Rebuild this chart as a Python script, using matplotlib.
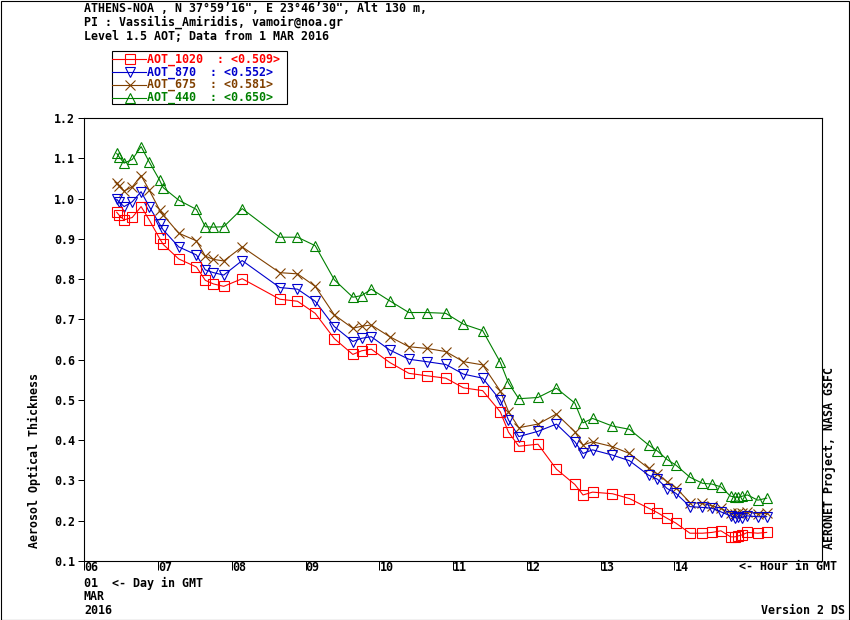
import matplotlib
matplotlib.use('Agg')
import matplotlib.pyplot as plt
from matplotlib.lines import Line2D
from matplotlib.patches import Rectangle

# Hour of day (GMT) for each measurement, 1 MAR 2016
hours = [6.44, 6.47, 6.54, 6.65, 6.77, 6.88, 7.02, 7.07, 7.28, 7.52,
         7.64, 7.75, 7.89, 8.14, 8.65, 8.89, 9.13, 9.39, 9.64, 9.76,
         9.89, 10.14, 10.40, 10.64, 10.90, 11.14, 11.40, 11.64, 11.75, 11.89,
         12.15, 12.40, 12.65, 12.76, 12.89, 13.16, 13.39, 13.65, 13.77, 13.90,
         14.02, 14.21, 14.38, 14.51, 14.63, 14.76, 14.82, 14.86, 14.92, 14.99,
         15.13, 15.25]

aot_1020 = [0.966, 0.959, 0.947, 0.953, 0.980, 0.947, 0.901, 0.886, 0.850, 0.830,
            0.797, 0.788, 0.782, 0.801, 0.750, 0.745, 0.715, 0.652, 0.613, 0.622,
            0.626, 0.593, 0.566, 0.560, 0.554, 0.530, 0.523, 0.470, 0.420, 0.385,
            0.390, 0.328, 0.290, 0.264, 0.271, 0.267, 0.255, 0.231, 0.220, 0.206,
            0.194, 0.169, 0.169, 0.171, 0.175, 0.160, 0.160, 0.162, 0.165, 0.171,
            0.169, 0.171]

aot_870 = [0.998, 0.992, 0.980, 0.992, 1.017, 0.980, 0.937, 0.922, 0.880, 0.860,
           0.823, 0.816, 0.810, 0.846, 0.779, 0.775, 0.745, 0.682, 0.645, 0.653,
           0.657, 0.624, 0.601, 0.595, 0.588, 0.564, 0.554, 0.499, 0.450, 0.409,
           0.422, 0.440, 0.396, 0.367, 0.376, 0.363, 0.349, 0.313, 0.303, 0.280,
           0.268, 0.235, 0.233, 0.231, 0.222, 0.212, 0.208, 0.210, 0.208, 0.212,
           0.210, 0.210]

aot_675 = [1.039, 1.031, 1.019, 1.029, 1.057, 1.021, 0.972, 0.959, 0.914, 0.895,
           0.857, 0.849, 0.845, 0.880, 0.816, 0.813, 0.782, 0.711, 0.678, 0.683,
           0.686, 0.657, 0.632, 0.628, 0.620, 0.595, 0.587, 0.522, 0.471, 0.431,
           0.440, 0.465, 0.421, 0.388, 0.396, 0.384, 0.367, 0.330, 0.316, 0.297,
           0.282, 0.245, 0.243, 0.237, 0.231, 0.218, 0.217, 0.218, 0.218, 0.222,
           0.217, 0.218]

aot_440 = [1.112, 1.104, 1.088, 1.097, 1.129, 1.091, 1.046, 1.027, 0.996, 0.973,
           0.930, 0.929, 0.930, 0.975, 0.904, 0.904, 0.883, 0.798, 0.755, 0.759,
           0.775, 0.746, 0.717, 0.717, 0.715, 0.688, 0.672, 0.593, 0.542, 0.503,
           0.506, 0.529, 0.492, 0.443, 0.454, 0.435, 0.427, 0.388, 0.373, 0.352,
           0.338, 0.308, 0.293, 0.291, 0.284, 0.261, 0.259, 0.258, 0.261, 0.264,
           0.251, 0.256]

names = ['AOT_1020', 'AOT_870', 'AOT_675', 'AOT_440']
means = ['0.509', '0.552', '0.581', '0.650']
colors = ['#ff0000', '#0000cc', '#804000', '#008000']
markers = ['s', 'v', 'x', '^']
series = [aot_1020, aot_870, aot_675, aot_440]

hour_ticks = [6, 7, 8, 9, 10, 11, 12, 13, 14]
hour_labels = ['06', '07', '08', '09', '10', '11', '12', '13', '14']
aot_ticks = [0.1, 0.2, 0.3, 0.4, 0.5, 0.6, 0.7, 0.8, 0.9, 1.0, 1.1, 1.2]

W, H = 850, 620
FS = 8.36
plt.rcParams['font.family'] = ['DejaVu Sans Mono', 'DejaVu Sans']
plt.rcParams['font.weight'] = 'bold'
plt.rcParams['font.size'] = FS


def fx(px):
    return px / W


def fy(py):
    return 1 - py / H


fig = plt.figure(figsize=(8.5, 6.2), dpi=100)
ax = fig.add_axes([fx(84.3), fy(561), fx(822) - fx(84.3), fy(118) - fy(561)])

# draw 440 first so red ends up on top
for i in [3, 2, 1, 0]:
    ax.plot(hours, series[i], color=colors[i], marker=markers[i], lw=0.8,
            ms=6.5 if markers[i] != 'x' else 7.5, mfc='none', mec=colors[i],
            mew=0.8)

ax.set_xlim(6, 16)
ax.set_ylim(0.1, 1.2)
ax.set_yticks(aot_ticks)
ax.set_yticklabels(['%.1f' % t for t in aot_ticks])
ax.set_xticks(hour_ticks)
ax.set_xticklabels(hour_labels)
for lab in ax.get_xticklabels():
    lab.set_horizontalalignment('left')
ax.tick_params(axis='y', direction='out', length=4.3, width=0.72, pad=2.2,
               labelsize=FS)
ax.tick_params(axis='x', direction='out', length=6.5, width=0.72, pad=-6.2,
               labelsize=FS)
for s in ax.spines.values():
    s.set_linewidth(0.8)

# header
fig.text(fx(84), fy(9), 'ATHENS-NOA , N 37°59’16", E 23°46’30", Alt 130 m,',
         va='center', ha='left')
fig.text(fx(84), fy(22.5), 'PI : Vassilis_Amiridis, vamoir@noa.gr',
         va='center', ha='left')
fig.text(fx(84), fy(36), 'Level 1.5 AOT; Data from 1 MAR 2016',
         va='center', ha='left')

# legend box
fig.add_artist(Rectangle((fx(112), fy(104)), fx(287) - fx(112), fy(51) - fy(104),
                         transform=fig.transFigure, fill=False, lw=0.8,
                         edgecolor='black'))
for i in range(4):
    yy = 59.3 + 12.8 * i
    fig.add_artist(Line2D([fx(112), fx(129.5), fx(146)], [fy(yy)] * 3,
                          transform=fig.transFigure, color=colors[i], lw=0.8,
                          marker=markers[i], markevery=[1], mfc='none',
                          mec=colors[i], mew=0.8,
                          ms=6.5 if markers[i] != 'x' else 7.5))
    fig.text(fx(147), fy(yy), '%s  : <%s>' % (names[i], means[i]),
             color=colors[i], va='center', ha='left')

# axis annotations
fig.text(fx(34), fy(461), 'Aerosol Optical Thickness', rotation=90,
         va='center', ha='center')
fig.text(fx(829), fy(458), 'AERONET Project, NASA GSFC', rotation=90,
         va='center', ha='center')
fig.text(fx(739), fy(567), '<- Hour in GMT', va='center', ha='left')
fig.text(fx(84), fy(583), '01  <- Day in GMT', va='center', ha='left')
fig.text(fx(84), fy(597), 'MAR', va='center', ha='left')
fig.text(fx(84), fy(611), '2016', va='center', ha='left')
fig.text(fx(845), fy(610), 'Version 2 DS', va='center', ha='right')

# outer frame
fig.add_artist(Rectangle((fx(0.5), fy(619.5)), fx(849) - fx(0.5), fy(0.5) - fy(619.5),
                         transform=fig.transFigure, fill=False, lw=0.8,
                         edgecolor='black'))

fig.savefig('out.png', dpi=100)
